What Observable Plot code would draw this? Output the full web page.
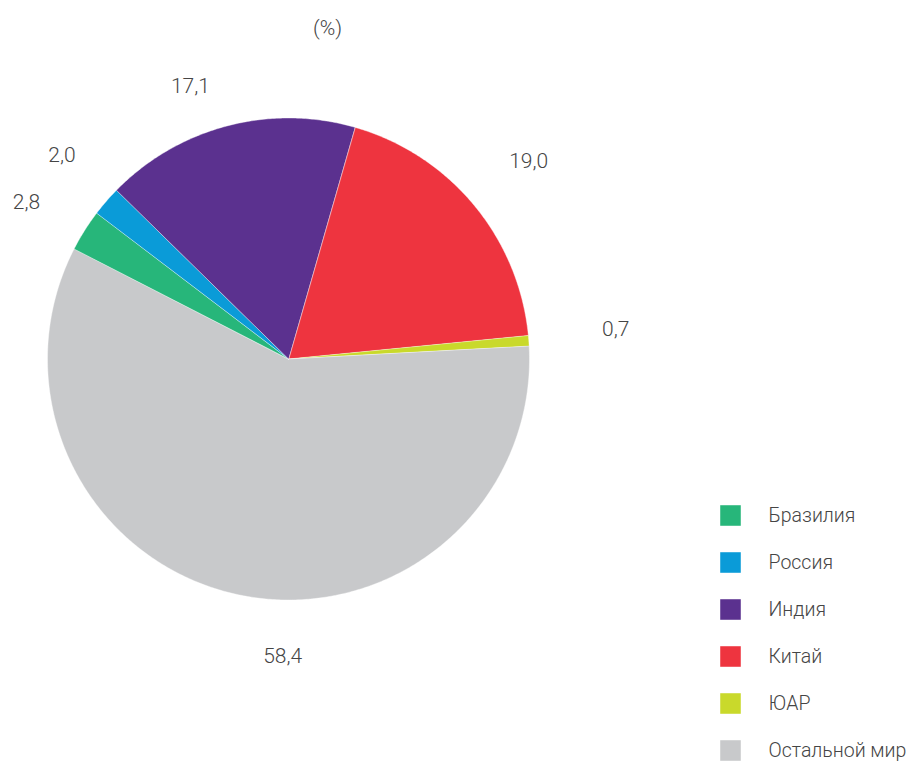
<!DOCTYPE html>
<html><head><meta charset="utf-8">
<script src="https://cdn.jsdelivr.net/npm/d3@7"></script>
<script src="https://cdn.jsdelivr.net/npm/@observablehq/plot@0.6"></script>
<style>
body{margin:0;background:#fff;}
#chart{width:909px;height:763px;}
</style>
</head><body><div id="chart"></div>
<script>
// Data (clockwise from the India/China border)
const countries = ["Китай", "ЮАР", "Остальной мир", "Бразилия", "Россия", "Индия"];
const shares = [19.0, 0.7, 58.4, 2.8, 2.0, 17.1];
const valueLabels = ["19,0", "0,7", "58,4", "2,8", "2,0", "17,1"];
const colors = ["#ee343f", "#c9d92b", "#c8c9cb", "#27b67a", "#0a9bd8", "#5b318f"];
const legendOrder = ["Бразилия", "Россия", "Индия", "Китай", "ЮАР", "Остальной мир"];
const unitLabel = "(%)";

// Layout
const W = 909, H = 763;
const cx = 288, cy = 358.5, R = 241;   // pie centre and radius in px
const startAngle = 16;                  // degrees clockwise from 12 o'clock
const labelRadius = 1.27;
const labelNudge = {                    // px offsets (dx, dy screen)
  "Китай": [5, -2], "ЮАР": [22, -7], "Остальной мир": [58, -2],
  "Бразилия": [-3, 6], "Россия": [5, -4], "Индия": [-20, 23]
};
const px = x => (x - cx) / R, py = y => (cy - y) / R;

const total = d3.sum(shares);
const rad = a => a * Math.PI / 180;
let acc = startAngle;
const slices = countries.map((name, i) => {
  const a0 = acc, a1 = acc + shares[i] / total * 360;
  acc = a1;
  const ring = [[0, 0]];
  const n = Math.max(2, Math.ceil((a1 - a0) / 0.5));
  for (let k = 0; k <= n; k++) {
    const a = rad(a0 + (a1 - a0) * k / n);
    ring.push([Math.sin(a), Math.cos(a)]);
  }
  ring.push([0, 0]);
  const mid = rad((a0 + a1) / 2);
  const [nx, ny] = labelNudge[name];
  return {
    type: "Feature",
    properties: {
      name, label: valueLabels[i],
      lx: labelRadius * Math.sin(mid) + nx / R,
      ly: labelRadius * Math.cos(mid) - ny / R
    },
    geometry: {type: "Polygon", coordinates: [ring]}
  };
});

const legend = legendOrder.map((name, i) => ({name, x: px(730), tx: px(768), y: py(515 + i * 47)}));

const chart = Plot.plot({
  width: W,
  height: H,
  margin: 0,
  projection: {
    type: "reflect-y",
    domain: {type: "MultiPoint", coordinates: [[px(0), py(H)], [px(W), py(0)]]}
  },
  color: {domain: countries, range: colors},
  style: {fontFamily: "Roboto, 'DejaVu Sans', sans-serif", background: "#fff"},
  marks: [
    Plot.geo(slices, {fill: d => d.properties.name, stroke: "#fff", strokeWidth: 0.4}),
    Plot.text(slices, {x: d => d.properties.lx, y: d => d.properties.ly, text: d => d.properties.label,
      fontSize: 21, fontWeight: 300, fill: "#454545", textAnchor: "middle"}),
    Plot.text([unitLabel], {x: () => px(327), y: () => py(28), text: d => d,
      fontSize: 21, fontWeight: 300, fill: "#454545", textAnchor: "middle"}),
    Plot.dot(legend, {x: "x", y: "y", symbol: "square", r: 11.6, fill: "name", stroke: null}),
    Plot.text(legend, {x: "tx", y: "y", text: "name", textAnchor: "start",
      fontSize: 19.5, fontWeight: 300, fill: "#454545"})
  ]
});
document.getElementById("chart").appendChild(chart);
</script>
</body></html>
